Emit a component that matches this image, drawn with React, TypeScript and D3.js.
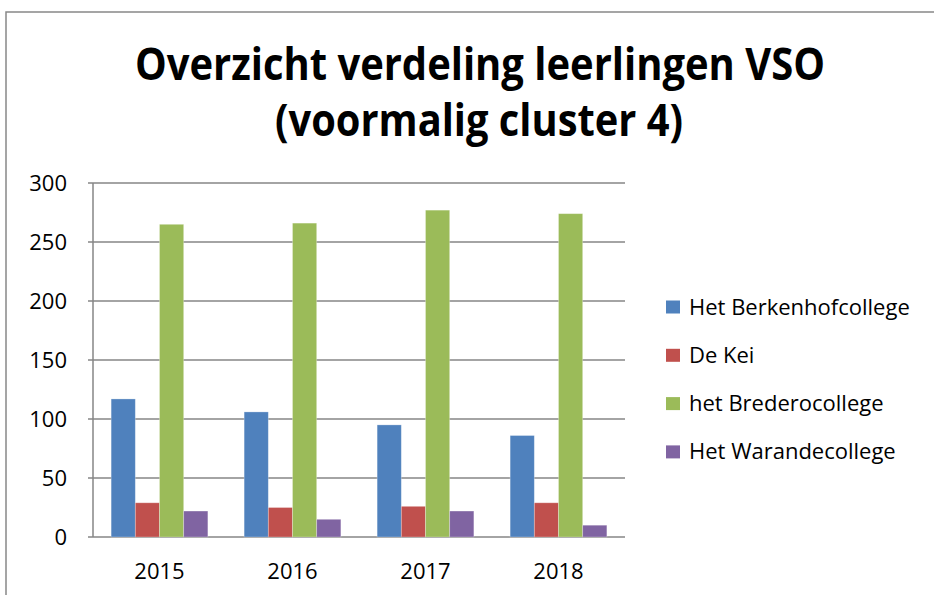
import React from "react";
import * as d3 from "d3";

const categories = ["2015", "2016", "2017", "2018"];
const seriesNames = ["Het Berkenhofcollege", "De Kei", "het Brederocollege", "Het Warandecollege"];
const berkenhof = [117, 106, 95, 86];
const deKei = [29, 25, 26, 29];
const bredero = [265, 266, 277, 274];
const warande = [22, 15, 22, 10];
const yTicks = [0, 50, 100, 150, 200, 250, 300];
const colors = ["#4F81BD", "#C0504D", "#9BBB59", "#8064A2"];
const titleLines = ["Overzicht verdeling leerlingen VSO", "(voormalig cluster 4)"];

const seriesValues = [berkenhof, deKei, bredero, warande];

export default function App() {
  const W = 934, H = 595;
  const left = 93, right = 625, top = 183, bottom = 537;
  const x = d3.scaleBand<string>().domain(categories).range([left, right]).padding(0);
  const x1 = d3
    .scaleBand<string>()
    .domain(seriesNames)
    .range([0, x.bandwidth()])
    .paddingInner(0)
    .paddingOuter(0.75);
  const y = d3.scaleLinear().domain([0, 300]).range([bottom, top]);
  const font = "'Open Sans', 'Liberation Sans', Arial, sans-serif";
  const grid = "#868686";
  const fs = 22;

  return (
    <svg
      width={W}
      height={H}
      style={{ position: "absolute", left: 0, top: 0, background: "#fff" }}
      fontFamily={font}
    >
      <rect x={0} y={0} width={W} height={H} fill="#fff" />
      <rect x={6} y={12} width={W + 20} height={H + 20} fill="none" stroke="#888" strokeWidth={1.5} />

      <text x={480} y={80} textAnchor="middle" fontSize={44} fontWeight="bold" textLength={690} lengthAdjust="spacingAndGlyphs">
        {titleLines[0]}
      </text>
      <text x={479} y={136} textAnchor="middle" fontSize={44} fontWeight="bold" textLength={408} lengthAdjust="spacingAndGlyphs">
        {titleLines[1]}
      </text>

      {yTicks.map((t) => (
        <g key={t}>
          <line x1={left - 5} x2={right} y1={y(t)} y2={y(t)} stroke={grid} strokeWidth={1.5} />
          <text x={67} y={y(t) + 7.5} textAnchor="end" fontSize={fs} fill="#000">
            {t}
          </text>
        </g>
      ))}
      <line x1={left} x2={left} y1={top} y2={bottom} stroke={grid} strokeWidth={1.5} />

      {categories.map((c, ci) => (
        <g key={c}>
          {seriesNames.map((s, si) => {
            const v = seriesValues[si][ci];
            return (
              <rect
                key={s}
                x={(x(c) as number) + (x1(s) as number)}
                y={y(v)}
                width={x1.bandwidth()}
                height={y(0) - y(v)}
                fill={colors[si]}
                stroke="#ffffff"
                strokeOpacity={0.35}
                strokeWidth={0.8}
              />
            );
          })}
          <text x={(x(c) as number) + x.bandwidth() / 2} y={579} textAnchor="middle" fontSize={fs}>
            {c}
          </text>
        </g>
      ))}

      {seriesNames.map((s, i) => {
        const ly = 307 + i * 48.3;
        return (
          <g key={s}>
            <rect x={666} y={ly - 6.5} width={14} height={13} fill={colors[i]} />
            <text x={689} y={ly + 7.5} fontSize={fs}>
              {s}
            </text>
          </g>
        );
      })}
    </svg>
  );
}
